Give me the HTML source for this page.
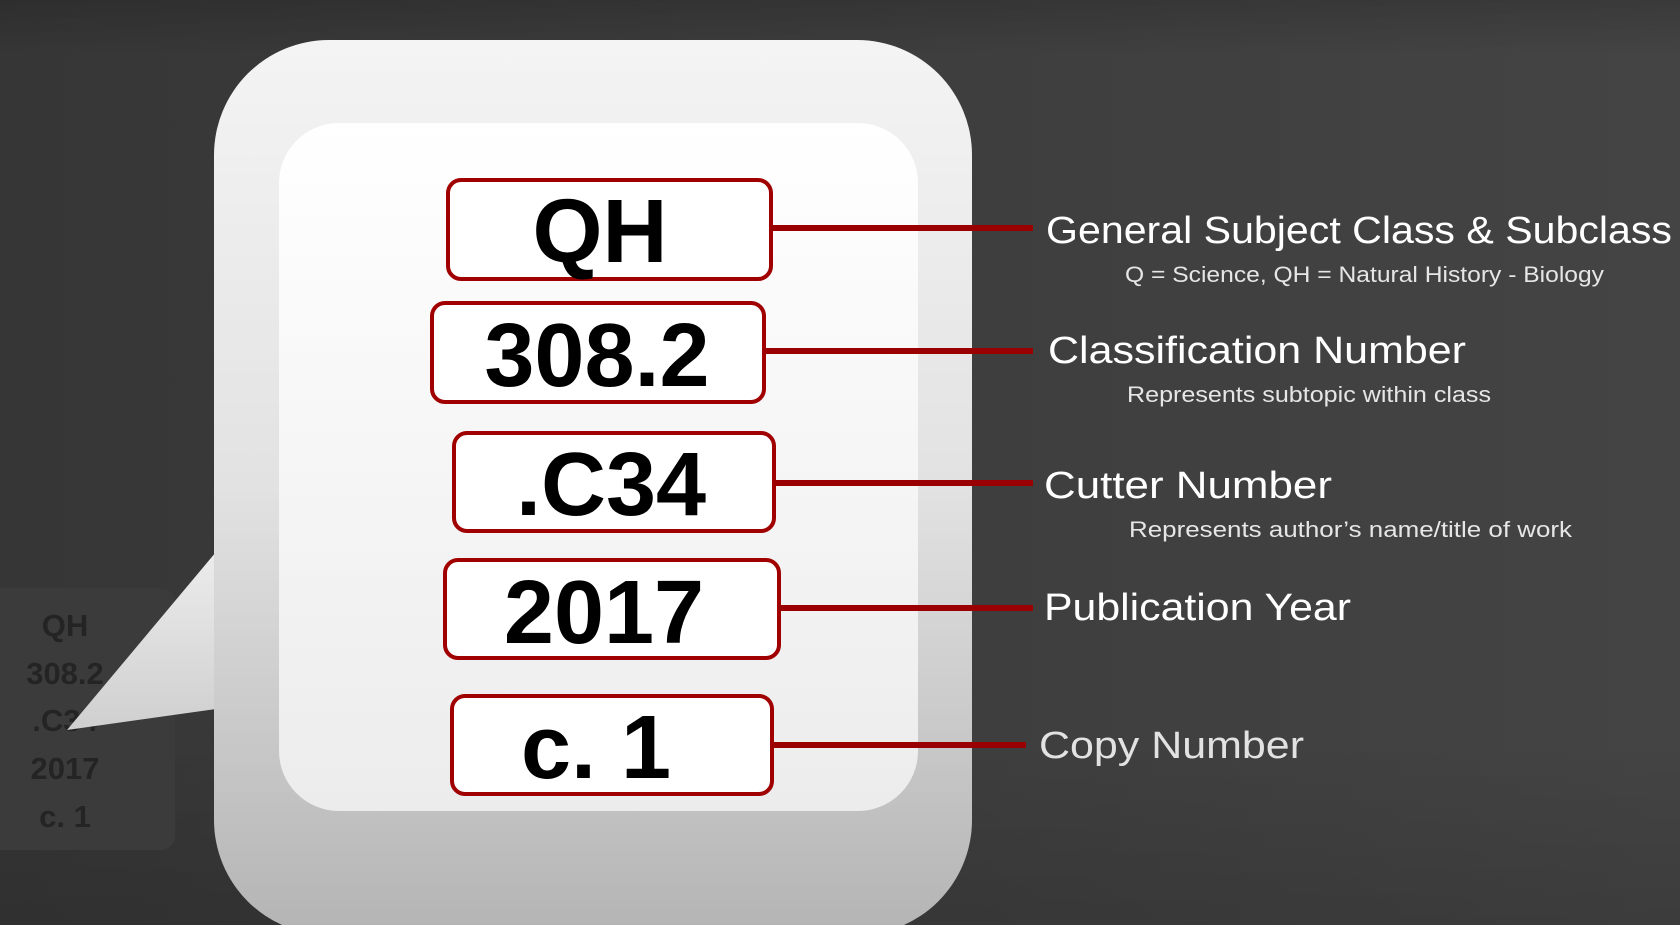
<!DOCTYPE html>
<html><head><meta charset="utf-8"><style>
html,body{margin:0;padding:0;width:1680px;height:925px;overflow:hidden;background:#333}
svg{display:block}
</style></head><body>
<svg width="1680" height="925" viewBox="0 0 1680 925" xmlns="http://www.w3.org/2000/svg">
<defs>
<linearGradient id="bg" x1="0" y1="0" x2="1" y2="0">
<stop offset="0" stop-color="#363636"/><stop offset="1" stop-color="#444"/>
</linearGradient>
<linearGradient id="bgv" x1="0" y1="0" x2="0" y2="1">
<stop offset="0" stop-color="#000" stop-opacity="0.15"/><stop offset="0.06" stop-color="#000" stop-opacity="0"/><stop offset="0.8" stop-color="#000" stop-opacity="0"/><stop offset="1" stop-color="#000" stop-opacity="0.12"/>
</linearGradient>
<linearGradient id="bub" x1="0" y1="0" x2="0" y2="1">
<stop offset="0" stop-color="#f4f4f4"/><stop offset="0.5" stop-color="#e2e2e2"/><stop offset="1" stop-color="#b4b4b4"/>
</linearGradient>
<linearGradient id="tail" x1="0" y1="0" x2="0" y2="1">
<stop offset="0" stop-color="#ececec"/><stop offset="1" stop-color="#cfcfcf"/>
</linearGradient>
<linearGradient id="inner" x1="0" y1="0" x2="0" y2="1">
<stop offset="0" stop-color="#ffffff"/><stop offset="1" stop-color="#ececec"/>
</linearGradient>
</defs>
<rect width="1680" height="925" fill="url(#bg)"/>
<rect width="1680" height="925" fill="url(#bgv)"/>
<rect x="-20" y="588" width="195" height="262" rx="14" fill="#3b3b3b"/>
<g font-family="Liberation Sans, sans-serif" font-weight="bold" font-size="31" fill="#242424" text-anchor="middle">
<text x="65" y="636">QH</text>
<text x="65" y="684">308.2</text>
<text x="65" y="731">.C34</text>
<text x="65" y="779">2017</text>
<text x="65" y="827">c. 1</text>
</g>
<path d="M216,552 L67,730 L216,709 Z" fill="url(#tail)"/>
<rect x="214" y="40" width="758" height="895" rx="115" fill="url(#bub)"/>
<rect x="279" y="123" width="639" height="688" rx="60" fill="url(#inner)"/>
<g fill="#fff" stroke="#a00000" stroke-width="4">
<rect x="448" y="180" width="323" height="99" rx="13"/>
<rect x="432" y="303" width="332" height="99" rx="13"/>
<rect x="454" y="433" width="320" height="98" rx="13"/>
<rect x="445" y="560" width="334" height="98" rx="13"/>
<rect x="452" y="696" width="320" height="98" rx="13"/>
</g>
<g font-family="Liberation Sans, sans-serif" font-weight="bold" font-size="90" fill="#000" text-anchor="middle">
<text x="600" y="262">QH</text>
<text x="597" y="386">308.2</text>
<text x="611" y="515">.C34</text>
<text x="604" y="643">2017</text>
<text x="596" y="778">c. 1</text>
</g>
<g stroke="#9a0000" stroke-width="6">
<line x1="771" y1="228" x2="1033" y2="228"/>
<line x1="764" y1="351" x2="1033" y2="351"/>
<line x1="774" y1="483" x2="1033" y2="483"/>
<line x1="779" y1="608" x2="1033" y2="608"/>
<line x1="772" y1="745" x2="1026" y2="745"/>
</g>
<g font-family="Liberation Sans, sans-serif" fill="#fff">
<text x="1046" y="243" font-size="38" textLength="626" lengthAdjust="spacingAndGlyphs">General Subject Class &amp; Subclass</text>
<text x="1125" y="282" font-size="22" fill="#e6e6e6" textLength="479" lengthAdjust="spacingAndGlyphs">Q = Science, QH = Natural History - Biology</text>
<text x="1048" y="363" font-size="38" textLength="418" lengthAdjust="spacingAndGlyphs">Classification Number</text>
<text x="1127" y="402" font-size="22" fill="#e6e6e6" textLength="364" lengthAdjust="spacingAndGlyphs">Represents subtopic within class</text>
<text x="1044" y="498" font-size="38" textLength="288" lengthAdjust="spacingAndGlyphs">Cutter Number</text>
<text x="1129" y="537" font-size="22" fill="#e6e6e6" textLength="443" lengthAdjust="spacingAndGlyphs">Represents author’s name/title of work</text>
<text x="1044" y="620" font-size="38" textLength="307" lengthAdjust="spacingAndGlyphs">Publication Year</text>
<text x="1039" y="758" font-size="38" fill="#e2e2e2" textLength="265" lengthAdjust="spacingAndGlyphs">Copy Number</text>
</g>
</svg>
</body></html>
